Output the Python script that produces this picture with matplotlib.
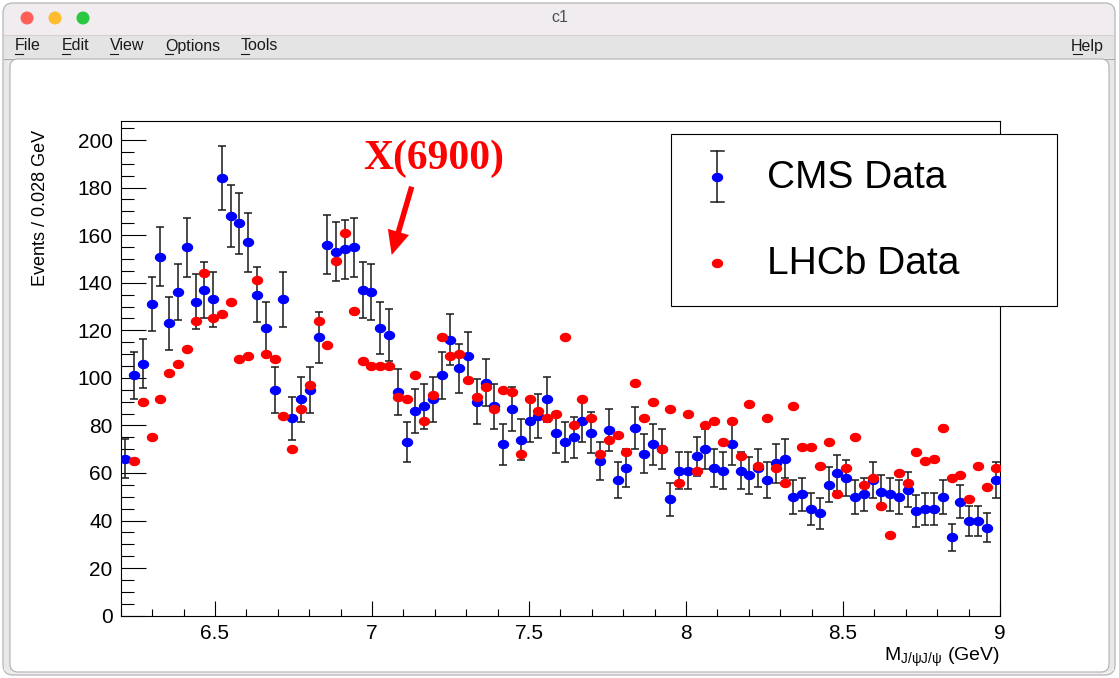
#!/usr/bin/env python3
"""
Di-J/psi invariant mass: CMS vs LHCb data, drawn inside a ROOT-like canvas window
"""

import matplotlib
matplotlib.use('Agg')
import matplotlib.pyplot as plt
import matplotlib.transforms as mtransforms
import numpy as np
from matplotlib.patches import Rectangle, Circle, FancyBboxPatch, FancyArrow
from matplotlib.lines import Line2D
from matplotlib.path import Path
from matplotlib.ticker import MultipleLocator, FormatStrFormatter

W, H, DPI = 1119, 678, 100

plt.rcParams['font.family'] = ['Liberation Sans', 'DejaVu Sans']
plt.rcParams['mathtext.fontset'] = 'custom'
plt.rcParams['mathtext.rm'] = 'Liberation Sans'
plt.rcParams['mathtext.it'] = 'Liberation Sans:italic'

# ---- data (28 MeV bins from 6.2 to 9.0 GeV) ----
mass_min, mass_max, bin_width = 6.2, 9.0, 0.028

cms_counts = [66, 101, 106, 131, 151, 123, 136, 155, 132, 137,
              133, 184, 168, 165, 157, 135, 121, 95, 133, 83,
              91, 95, 117, 156, 153, 154, 155, 137, 136, 121,
              118, 94, 73, 86, 88, 91, 101, 116, 104, 109,
              90, 98, 88, 72, 87, 74, 82, 84, 91, 77,
              73, 75, 82, 77, 65, 78, 57, 62, 79, 68,
              72, 70, 49, 61, 61, 67, 70, 62, 61, 72,
              61, 59, 62, 57, 64, 66, 50, 51, 45, 43,
              55, 60, 58, 50, 51, 57, 52, 51, 50, 53,
              44, 45, 45, 50, 33, 48, 40, 40, 37, 57]

cms_errors = [8.1, 10.0, 10.3, 11.4, 12.3, 11.1, 11.7, 12.4, 11.5, 11.7,
              11.5, 13.6, 13.0, 12.8, 12.5, 11.6, 11.0, 9.7, 11.5, 9.1,
              9.5, 9.7, 10.8, 12.5, 12.4, 12.4, 12.4, 11.7, 11.7, 11.0,
              10.9, 9.7, 8.5, 9.3, 9.4, 9.5, 10.0, 10.8, 10.2, 10.4,
              9.5, 9.9, 9.4, 8.5, 9.3, 8.6, 9.1, 9.2, 9.5, 8.8,
              8.5, 8.7, 9.1, 8.8, 8.1, 8.8, 7.5, 7.9, 8.9, 8.2,
              8.5, 8.4, 7.0, 7.8, 7.8, 8.2, 8.4, 7.9, 7.8, 8.5,
              7.8, 7.7, 7.9, 7.5, 8.0, 8.1, 7.1, 7.1, 6.7, 6.6,
              7.4, 7.7, 7.6, 7.1, 7.1, 7.5, 7.2, 7.1, 7.1, 7.3,
              6.6, 6.7, 6.7, 7.1, 5.7, 6.9, 6.3, 6.3, 6.1, 7.5]

# LHCb points start at the second bin
lhcb_first_bin = 1
lhcb_counts = [65, 90, 75, 91, 102, 106, 112, 124, 144,
               125, 127, 132, 108, 109, 141, 110, 108, 84, 70,
               87, 97, 124, 114, 149, 161, 128, 107, 105, 105,
               105, 92, 91, 101, 82, 93, 117, 109, 110, 99,
               92, 96, 87, 95, 94, 68, 91, 86, 83, 85,
               117, 80, 91, 83, 68, 74, 76, 69, 98, 83,
               90, 70, 87, 56, 85, 61, 80, 82, 73, 82,
               67, 89, 63, 83, 62, 56, 88, 71, 71, 63,
               73, 51, 62, 75, 55, 58, 46, 34, 60, 56,
               69, 65, 66, 79, 58, 59, 49, 63, 54, 62]

x_ticks = [6.5, 7.0, 7.5, 8.0, 8.5, 9.0]
menu_items = ['File', 'Edit', 'View', 'Options', 'Tools']

# bin centres
cms_x = mass_min + bin_width * (np.arange(len(cms_counts)) + 0.5)
lhcb_x = mass_min + bin_width * (np.arange(len(lhcb_counts)) + lhcb_first_bin + 0.5)

fig = plt.figure(figsize=(W / DPI, H / DPI), dpi=DPI)
fig.patch.set_facecolor('white')

# pixel coordinates, origin top-left
pix = mtransforms.Affine2D().scale(1 / DPI, -1 / DPI).translate(0, H / DPI) + fig.dpi_scale_trans

# ---- window chrome ----
fig.add_artist(FancyBboxPatch((3, 3), 1112, 672, boxstyle='round,pad=0,rounding_size=10',
                              transform=pix, fc='#f0ecf0', ec='#bcbcbc', lw=1, zorder=0))
fig.add_artist(Rectangle((4, 35), 1110, 23, transform=pix, fc='#e4e4e4', ec='none', zorder=0.1))
fig.add_artist(Line2D([4, 1114], [34.5, 34.5], transform=pix, color='#d4d0d4', lw=0.8, zorder=0.2))
fig.add_artist(Line2D([4, 1114], [58.5, 58.5], transform=pix, color='#a8a8a8', lw=0.8, zorder=0.2))
fig.add_artist(Rectangle((4, 59), 1110, 612, transform=pix, fc='#e8e8e8', ec='none', zorder=0.1))
fig.add_artist(FancyBboxPatch((10, 59), 1099, 613, boxstyle='round,pad=0,rounding_size=8',
                              transform=pix, fc='white', ec='#b0b0b0', lw=0.8, zorder=0.2))

for cx, col in zip([27, 55, 83], ['#fe5f57', '#febc2e', '#28c840']):
    fig.add_artist(Circle((cx, 18), 6.5, transform=pix, fc=col, ec='none', zorder=0.3))
fig.text(560, 18, 'c1', transform=pix, ha='center', va='center', fontsize=11.5, color='#505050')

menu_x = [15, 62, 110, 165, 241]
for mx, name in zip(menu_x, menu_items):
    fig.text(mx, 46, name, transform=pix, ha='left', va='center', fontsize=11.5, color='#1a1a1a')
    fig.add_artist(Line2D([mx, mx + 8], [54, 54], transform=pix, color='#1a1a1a', lw=0.8))
fig.text(1104, 46, 'Help', transform=pix, ha='right', va='center', fontsize=11.5, color='#1a1a1a')
fig.add_artist(Line2D([1073, 1082], [54, 54], transform=pix, color='#1a1a1a', lw=0.8))

# ---- plot frame ----
x0, x1, y0, y1 = 120.8, 1000.0, 121.0, 615.7
ax = fig.add_axes([x0 / W, 1 - y1 / H, (x1 - x0) / W, (y1 - y0) / H])
ax.set_zorder(1)
ax.set_xlim(mass_min, mass_max)
ax.set_ylim(0, 208)

theta = np.linspace(0, 2 * np.pi, 60)
ellipse = Path(np.column_stack([np.cos(theta), 0.8 * np.sin(theta)]), closed=True)

ax.errorbar(cms_x, cms_counts, yerr=cms_errors, fmt='none', ecolor='#1a1a1a',
            elinewidth=1.1, capsize=2.9, capthick=1.1, zorder=2)
ax.plot(cms_x, cms_counts, ls='none', marker=ellipse, ms=7.2, color='#0000ff', mec='#0000ff', zorder=3)
ax.plot(lhcb_x, lhcb_counts, ls='none', marker=ellipse, ms=7.2, color='#ff0000', mec='#ff0000', zorder=4)

ax.set_xticks(x_ticks)
ax.xaxis.set_minor_locator(MultipleLocator(0.1))
ax.xaxis.set_major_formatter(FormatStrFormatter('%g'))
ax.yaxis.set_major_locator(MultipleLocator(20))
ax.yaxis.set_minor_locator(MultipleLocator(5))
ax.tick_params(which='both', direction='in', top=False, right=False, width=0.8, colors='black')
ax.tick_params(axis='y', which='major', length=18, pad=5.8, labelsize=15)
ax.tick_params(axis='y', which='minor', length=9.4)
ax.tick_params(axis='x', which='major', length=10.8, pad=5.8, labelsize=15)
ax.tick_params(axis='x', which='minor', length=5)
for sp in ax.spines.values():
    sp.set_linewidth(0.8)
    sp.set_color('black')

# axis titles
fig.text(41, 130, 'Events / 0.028 GeV', transform=pix, rotation=90, ha='center', va='top', fontsize=13)
fig.text(1000, 661, r'$\mathregular{M_{J/\psi J/\psi}}$ (GeV)', transform=pix,
         ha='right', va='baseline', fontsize=14)

# X(6900) annotation
fig.text(434, 159, 'X(6900)', transform=pix, ha='center', va='center', fontsize=30,
         family=['Liberation Serif', 'DejaVu Serif'], weight='bold', color='#ff0000', zorder=6)
fig.add_artist(FancyArrow(411.7, 186.7, -20, 68.3, width=5.5, head_width=22, head_length=24,
                          length_includes_head=True, transform=pix, fc='#ff0000', ec='none', zorder=6))

# ---- legend box (drawn over the frame) ----
fig.add_artist(Rectangle((670.5, 133.5), 386, 172, transform=pix, fc='white', ec='black', lw=0.8, zorder=5))
fig.add_artist(Line2D([717, 717], [151, 202], transform=pix, color='#1a1a1a', lw=1.1, zorder=6))
for cy in (151, 202):
    fig.add_artist(Line2D([710.5, 723.5], [cy, cy], transform=pix, color='#1a1a1a', lw=1.1, zorder=6))
fig.add_artist(Line2D([717], [177], transform=pix, ls='none', marker=ellipse, ms=7.2,
                      color='#0000ff', mec='#0000ff', zorder=7))
fig.add_artist(Line2D([717], [263], transform=pix, ls='none', marker=ellipse, ms=7.2,
                      color='#ff0000', mec='#ff0000', zorder=7))
fig.text(767, 178, 'CMS Data', transform=pix, ha='left', va='center', fontsize=28, zorder=7)
fig.text(767, 264, 'LHCb Data', transform=pix, ha='left', va='center', fontsize=28, zorder=7)

fig.savefig('out.png', dpi=DPI, facecolor='white')
